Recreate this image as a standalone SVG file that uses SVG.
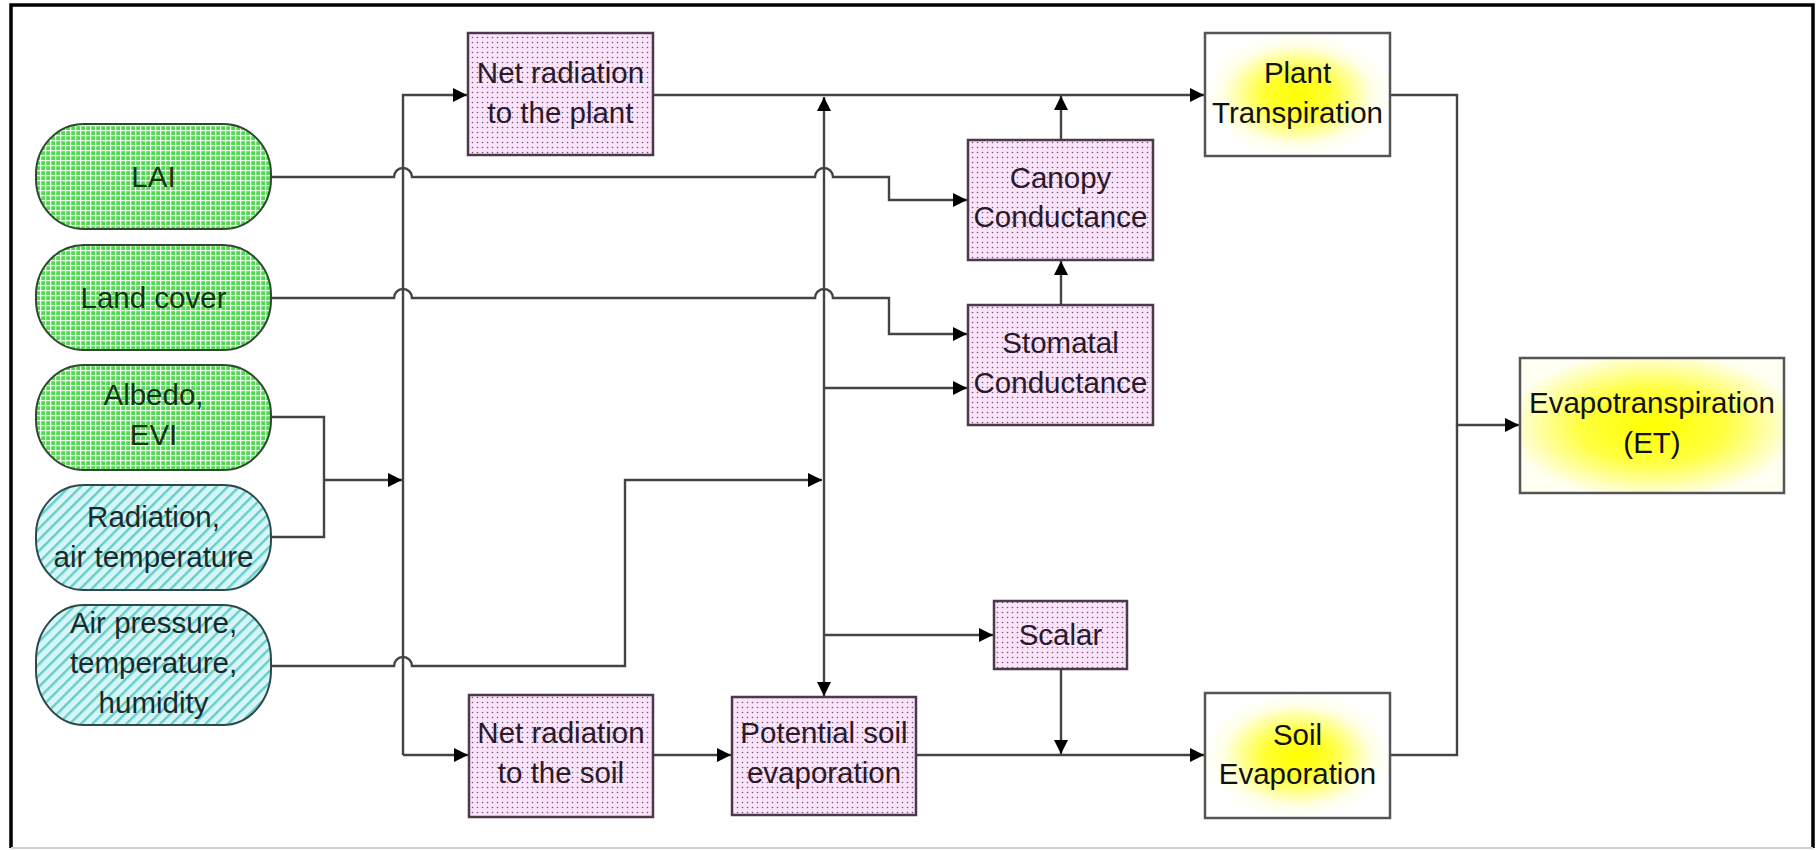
<svg xmlns="http://www.w3.org/2000/svg" width="1818" height="850" viewBox="0 0 1818 850">
<defs>
<pattern id="grid" width="5" height="5" patternUnits="userSpaceOnUse">
<rect width="5" height="5" fill="#52d852"/>
<path d="M0,0.6 H5 M0.6,0 V5" stroke="#e6ffe6" stroke-width="1.3"/>
</pattern>
<pattern id="stripe" width="8" height="8" patternUnits="userSpaceOnUse" patternTransform="rotate(45)">
<rect width="8" height="8" fill="#d6f6f6"/>
<rect x="0" y="0" width="2.4" height="8" fill="#66cccc"/>
</pattern>
<pattern id="dots" width="5" height="5" patternUnits="userSpaceOnUse">
<rect width="5" height="5" fill="#fbe4fb"/>
<circle cx="2.5" cy="2.5" r="0.8" fill="#6a5a6a"/>
</pattern>
<radialGradient id="glow" cx="0.5" cy="0.5" r="0.5">
<stop offset="0" stop-color="#ffff00"/>
<stop offset="0.35" stop-color="#ffff30"/>
<stop offset="0.8" stop-color="#ffffe6"/>
<stop offset="1" stop-color="#ffffff"/>
</radialGradient>
<radialGradient id="glowET" cx="0.5" cy="0.5" r="0.55">
<stop offset="0" stop-color="#ffff00"/>
<stop offset="0.5" stop-color="#ffff40"/>
<stop offset="1" stop-color="#fffff2"/>
</radialGradient>
<marker id="arr" viewBox="0 0 14 14" markerWidth="14" markerHeight="14" refX="14" refY="7" orient="auto-start-reverse" markerUnits="userSpaceOnUse">
<path d="M0,0 L14,7 L0,14 z" fill="#000"/>
</marker>
<style>
.pill-g{fill:url(#grid);stroke:#2d4a2d;stroke-width:2}
.pill-b{fill:url(#stripe);stroke:#2d4a4a;stroke-width:2}
.pk{fill:url(#dots);stroke:#4a3a4a;stroke-width:2.5}
.yl{fill:url(#glow);stroke:#555;stroke-width:2.5}
.t{font-family:"Liberation Sans",Arial,sans-serif;font-size:29.5px;text-anchor:middle}
.tg{fill:#143214}
.tb{fill:#1a2a2a}
.tp{fill:#2a1a2a}
.ty{fill:#111}
.c{fill:none;stroke:#444;stroke-width:2.4}
.ca{fill:none;stroke:#444;stroke-width:2.4;marker-end:url(#arr)}
</style>
</defs>
<rect width="1818" height="850" fill="#fff"/>
<path d="M11,848 V5 H1813 V848" fill="none" stroke="#000" stroke-width="3.5"/>
<path d="M11,848 H1813" fill="none" stroke="#d0d0d0" stroke-width="2"/>

<g id="connectors">
<path class="c" d="M271,417 H324 V537 H271"/>
<path class="ca" d="M324,480 H402"/>
<path class="ca" d="M403,755 V95 H467"/>
<path class="ca" d="M403,755 H468"/>
<path class="ca" d="M653,95 H1204"/>
<path class="c" d="M824,97 V696" style="marker-start:url(#arr);marker-end:url(#arr)"/>
<path class="ca" d="M824,388 H967"/>
<path class="ca" d="M824,635 H993"/>
<path class="ca" d="M271,177 H394 A9,9 0 0 1 412,177 H815 A9,9 0 0 1 833,177 H889 V200 H967"/>
<path class="ca" d="M271,298 H394 A9,9 0 0 1 412,298 H815 A9,9 0 0 1 833,298 H889 V334 H967"/>
<path class="ca" d="M271,666 H394 A9,9 0 0 1 412,666 H625 V480 H822"/>
<path class="ca" d="M1061,140 V96"/>
<path class="ca" d="M1061,305 V261"/>
<path class="ca" d="M1061,669 V754"/>
<path class="ca" d="M916,755 H1204"/>
<path class="ca" d="M653,755 H731"/>
<path class="ca" d="M1390,95 H1457 V425 H1519"/>
<path class="c" d="M1390,755 H1457 V425"/>
</g>

<g id="lai"><rect class="pill-g" x="36" y="124" width="235" height="105" rx="48" ry="50"/><text class="t tg" x="153.5" y="187">LAI</text></g>
<g id="landcover"><rect class="pill-g" x="36" y="245" width="235" height="105" rx="48" ry="50"/><text class="t tg" x="153.5" y="308">Land cover</text></g>
<g id="albedo"><rect class="pill-g" x="36" y="365" width="235" height="105" rx="48" ry="50"/><text class="t tg" x="153.5" y="405">Albedo,</text><text class="t tg" x="153.5" y="445">EVI</text></g>
<g id="radiation"><rect class="pill-b" x="36" y="485" width="235" height="105" rx="48" ry="50"/><text class="t tb" x="153.5" y="527">Radiation,</text><text class="t tb" x="153.5" y="567">air temperature</text></g>
<g id="airpressure"><rect class="pill-b" x="36" y="605" width="235" height="120" rx="48" ry="55"/><text class="t tb" x="153.5" y="633">Air pressure,</text><text class="t tb" x="153.5" y="673">temperature,</text><text class="t tb" x="153.5" y="713">humidity</text></g>

<g id="netradplant"><rect class="pk" x="468" y="33" width="185" height="122"/><text class="t tp" x="560.5" y="83">Net radiation</text><text class="t tp" x="560.5" y="123">to the plant</text></g>
<g id="netradsoil"><rect class="pk" x="469" y="695" width="184" height="122"/><text class="t tp" x="561" y="743">Net radiation</text><text class="t tp" x="561" y="783">to the soil</text></g>
<g id="potsoil"><rect class="pk" x="732" y="697" width="184" height="118"/><text class="t tp" x="824" y="743">Potential soil</text><text class="t tp" x="824" y="783">evaporation</text></g>
<g id="canopy"><rect class="pk" x="968" y="140" width="185" height="120"/><text class="t tp" x="1060.5" y="188">Canopy</text><text class="t tp" x="1060.5" y="227">Conductance</text></g>
<g id="stomatal"><rect class="pk" x="968" y="305" width="185" height="120"/><text class="t tp" x="1060.5" y="353">Stomatal</text><text class="t tp" x="1060.5" y="393">Conductance</text></g>
<g id="scalar"><rect class="pk" x="994" y="601" width="133" height="68"/><text class="t tp" x="1060.5" y="645">Scalar</text></g>

<g id="planttrans"><rect class="yl" x="1205" y="33" width="185" height="123"/><text class="t ty" x="1297.5" y="83">Plant</text><text class="t ty" x="1297.5" y="123">Transpiration</text></g>
<g id="soilevap"><rect class="yl" x="1205" y="693" width="185" height="125"/><text class="t ty" x="1297.5" y="745">Soil</text><text class="t ty" x="1297.5" y="784">Evaporation</text></g>
<g id="et"><rect x="1520" y="358" width="264" height="135" fill="url(#glowET)" stroke="#555" stroke-width="2.5"/><text class="t ty" x="1652" y="413">Evapotranspiration</text><text class="t ty" x="1652" y="453">(ET)</text></g>
</svg>
